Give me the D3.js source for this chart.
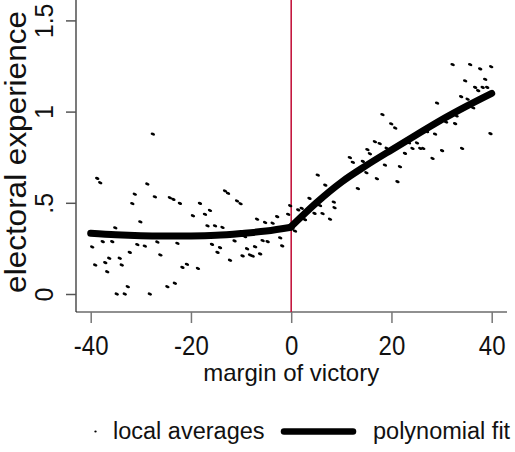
<!DOCTYPE html>
<html>
<head>
<meta charset="utf-8">
<script src="https://cdn.jsdelivr.net/npm/d3@7"></script>
<style>
  body { margin: 0; background: #fff; }
  svg { display: block; font-family: "Liberation Sans", Arial, sans-serif; }
</style>
</head>
<body>
<svg id="chart" width="515" height="452"></svg>
<script>
// tick values and labels
const xTicks = [-40, -20, 0, 20, 40];
const xTickLabels = ["-40", "-20", "0", "20", "40"];
const yTicks = [0, 0.5, 1, 1.5];
const yTickLabels = ["0", ".5", "1", "1.5"];

// local averages (margin of victory, electoral experience)
const avgX = [-39.7,-38.7,-38.1,-39.1,-37.6,-37.1,-36.7,-36.3,-35.7,-35.1,-34.8,-34.2,-33.8,-33.2,-32.6,-32.2,-31.7,-31.2,-30.7,-30.1,
  -29.2,-28.7,-28.2,-27.6,-27.2,-26.7,-26.1,-24.7,-24.2,-23.5,-23.2,-22.7,-22.2,-21.7,-20.8,-19.6,-18.6,-18.2,-17.2,-16.7,
  -16.2,-15.8,-15.2,-14.7,-14.2,-13.7,-13.2,-12.6,-12.2,-11.3,-10.8,-10.1,-9.7,-9.2,-8.8,-8.2,-7.7,-7.2,-6.8,-6.2,
  -5.7,-5.2,-4.7,-3.7,-2.8,-2.2,-1.8,-0.6,-0.2,
  0.76,1.4,2.1,2.75,3.65,4.65,5.3,5.75,6.25,6.8,7.75,8.5,8.65,11.7,12.3,13.3,14.3,14.9,15.0,15.2,
  15.7,16.7,17.65,17.1,18.2,18.7,19.05,19.95,20.75,21.2,21.7,22.7,23.5,24.2,25.1,25.75,26.35,27.1,28.2,28.7,
  29.1,30.1,30.7,30.9,32.2,32.7,33.0,33.9,34.1,34.7,35.2,35.7,36.3,36.7,37.3,37.7,38.2,38.7,39.1,39.75,39.9];
const avgY = [0.258,0.634,0.610,0.159,0.287,0.172,0.122,0.196,0.287,0.363,0.0,0.196,0.159,0.0,0.040,0.228,0.496,0.547,0.271,0.396,
  0.263,0.603,0.0,0.877,0.533,0.285,0.214,0.040,0.528,0.519,0.059,0.278,0.497,0.146,0.163,0.429,0.140,0.497,0.437,0.374,
  0.458,0.272,0.374,0.228,0.254,0.365,0.565,0.552,0.185,0.291,0.510,0.495,0.209,0.314,0.248,0.214,0.208,0.259,0.410,0.220,
  0.293,0.392,0.287,0.388,0.424,0.308,0.264,0.437,0.484,
  0.345,0.461,0.470,0.408,0.524,0.442,0.652,0.485,0.441,0.597,0.410,0.504,0.473,0.748,0.722,0.578,0.727,0.707,0.665,0.792,
  0.769,0.835,0.825,0.632,0.984,0.707,0.799,0.933,0.910,0.616,0.698,0.771,0.829,0.798,0.828,0.798,0.798,0.890,0.743,0.877,
  1.047,0.786,0.968,0.943,1.258,0.934,0.976,1.082,0.798,1.169,1.068,1.258,1.021,1.133,1.115,1.234,1.133,1.177,1.133,0.879,1.246];

// polynomial fit, each side of the cutoff
const fitLeftX = [-40, -35, -30, -25, -20, -15, -10, -5, 0];
const fitLeftY = [0.333, 0.325, 0.320, 0.318, 0.318, 0.322, 0.332, 0.345, 0.366];
const fitRightX = [0, 5, 10, 15, 20, 25, 30, 35, 40];
const fitRightY = [0.370, 0.500, 0.613, 0.705, 0.790, 0.873, 0.955, 1.030, 1.100];

const cutoff = 0;

const svg = d3.select("#chart");

// frame of the plot region
const frame = {left: 76, right: 507, top: 0, bottom: 312};

var x = d3.scaleLinear().domain([-40, 40]).range([90.7, 491.7]);
var y = d3.scaleLinear().domain([0, 1.5]).range([294, 20.4]);

// axis lines (L shaped box)
svg.append("line")
    .attr("x1", frame.left).attr("x2", frame.left)
    .attr("y1", frame.top).attr("y2", frame.bottom)
    .attr("stroke", "#222").attr("stroke-width", 1.2);
svg.append("line")
    .attr("x1", frame.left).attr("x2", frame.right)
    .attr("y1", frame.bottom).attr("y2", frame.bottom)
    .attr("stroke", "#222").attr("stroke-width", 1.2);

// x axis
const xAxis = svg.append("g")
    .attr("transform", "translate(0," + frame.bottom + ")")
    .call(d3.axisBottom(x).tickValues(xTicks).tickSize(11).tickFormat((d, i) => xTickLabels[i]));
xAxis.select(".domain").remove();
xAxis.selectAll(".tick line").attr("stroke", "#777").attr("stroke-width", 1.5);
xAxis.selectAll(".tick text")
    .attr("y", null).attr("dy", null)
    .attr("transform", "translate(0,43) scale(1,1.16)")
    .attr("font-size", 24)
    .attr("font-family", "Liberation Sans, Arial, sans-serif")
    .attr("fill", "#111");

// y axis with rotated labels
const yAxis = svg.append("g")
    .attr("transform", "translate(" + frame.left + ",0)")
    .call(d3.axisLeft(y).tickValues(yTicks).tickSize(10).tickFormat((d, i) => yTickLabels[i]));
yAxis.select(".domain").remove();
yAxis.selectAll(".tick line").attr("stroke", "#555").attr("stroke-width", 1.5);
yAxis.selectAll(".tick text")
    .attr("x", null).attr("dy", null)
    .attr("transform", "translate(-23,0) rotate(-90)")
    .attr("text-anchor", "middle")
    .attr("font-size", 25)
    .attr("font-family", "Liberation Sans, Arial, sans-serif")
    .attr("fill", "#111");

// axis titles
svg.append("text")
    .attr("x", x(0)).attr("y", 381)
    .attr("text-anchor", "middle")
    .attr("font-size", 24)
    .attr("fill", "#111")
    .text("margin of victory");

svg.append("text")
    .attr("transform", "translate(26,152) rotate(-90) scale(1,0.92)")
    .attr("text-anchor", "middle")
    .attr("font-size", 31.5)
    .attr("fill", "#111")
    .text("electoral experience");

// cutoff line
svg.append("line")
    .attr("x1", x(cutoff)).attr("x2", x(cutoff))
    .attr("y1", frame.top).attr("y2", frame.bottom)
    .attr("stroke", "#c4183f").attr("stroke-width", 1.6);

// local averages
const avgData = avgX.map((d, i) => ({x: d, y: avgY[i]}));
svg.append("g").selectAll("ellipse")
    .data(avgData)
    .join("ellipse")
    .attr("transform", d => "translate(" + x(d.x) + "," + y(d.y) + ") rotate(22)")
    .attr("rx", 2.3).attr("ry", 1.4)
    .attr("fill", "#000");

// polynomial fit
const fitLine = d3.line()
    .x(d => x(d[0]))
    .y(d => y(d[1]))
    .curve(d3.curveCatmullRom);

[[fitLeftX, fitLeftY], [fitRightX, fitRightY]].forEach(function(s) {
    svg.append("path")
        .datum(s[0].map((d, i) => [d, s[1][i]]))
        .attr("fill", "none")
        .attr("stroke", "#000")
        .attr("stroke-width", 7)
        .attr("stroke-linecap", "round")
        .attr("stroke-linejoin", "round")
        .attr("d", fitLine);
});

// legend
const legend = svg.append("g").attr("transform", "translate(0,431.5)");
legend.append("ellipse")
    .attr("cx", 95.5).attr("cy", 0)
    .attr("rx", 1.2).attr("ry", 1)
    .attr("fill", "#000");
legend.append("text")
    .attr("x", 113).attr("y", 7.5)
    .attr("font-size", 23.5)
    .attr("fill", "#111")
    .text("local averages");
legend.append("line")
    .attr("x1", 284).attr("x2", 353)
    .attr("y1", 0).attr("y2", 0)
    .attr("stroke", "#000").attr("stroke-width", 6.5)
    .attr("stroke-linecap", "round");
legend.append("text")
    .attr("x", 373).attr("y", 7.5)
    .attr("font-size", 23.5)
    .attr("fill", "#111")
    .text("polynomial fit");
</script>
</body>
</html>
